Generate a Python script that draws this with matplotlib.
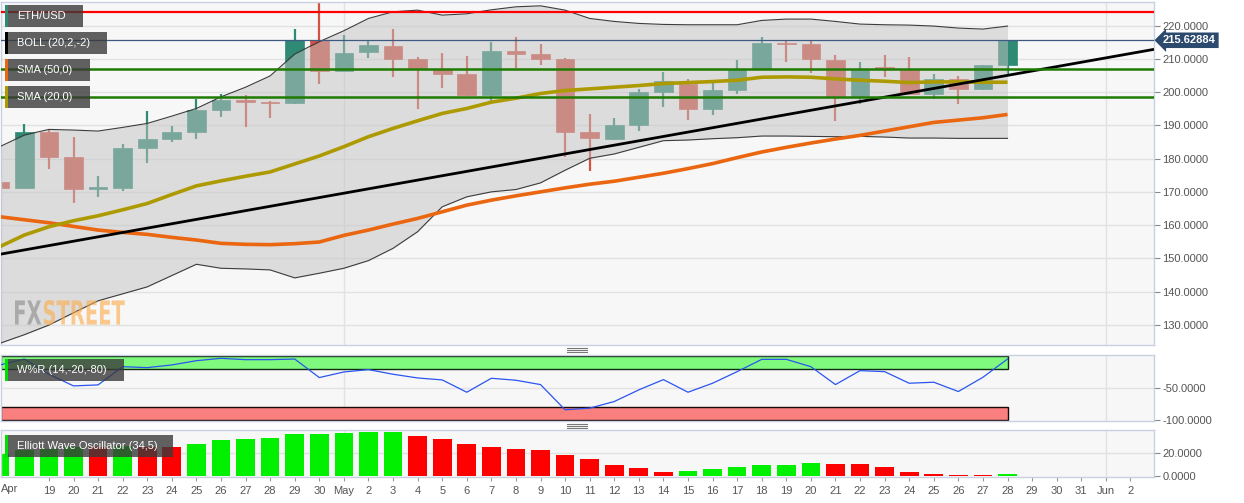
import numpy as np
import matplotlib
matplotlib.use('Agg')
import matplotlib.pyplot as plt
from matplotlib.patches import Rectangle, PathPatch
from matplotlib.textpath import TextPath
from matplotlib.font_manager import FontProperties
from matplotlib.transforms import Affine2D, blended_transform_factory
from matplotlib.lines import Line2D

plt.rcParams['font.family'] = ['Liberation Sans', 'DejaVu Sans']

# ---------------- data (Apr 17 .. May 28) ----------------
dates = ['Apr 17', 'Apr 18', 'Apr 19', 'Apr 20', 'Apr 21', 'Apr 22', 'Apr 23', 'Apr 24',
         'Apr 25', 'Apr 26', 'Apr 27', 'Apr 28', 'Apr 29', 'Apr 30', 'May 1', 'May 2',
         'May 3', 'May 4', 'May 5', 'May 6', 'May 7', 'May 8', 'May 9', 'May 10',
         'May 11', 'May 12', 'May 13', 'May 14', 'May 15', 'May 16', 'May 17', 'May 18',
         'May 19', 'May 20', 'May 21', 'May 22', 'May 23', 'May 24', 'May 25', 'May 26',
         'May 27', 'May 28']
opens = [172.9, 171.2, 187.9, 180.5, 170.9, 171.2, 183.3, 185.8, 187.9, 194.5, 197.6, 196.8,
         196.8, 215.6, 206.4, 212.0, 214.0, 210.0, 207.0, 205.5, 199.2, 212.3, 211.5, 210.0,
         187.9, 186.0, 190.0, 200.0, 202.4, 194.8, 200.6, 207.0, 214.7, 214.6, 209.8, 198.9,
         207.3, 206.8, 199.6, 204.0, 201.0, 208.3]
highs = [175.1, 190.4, 188.6, 186.4, 174.8, 184.4, 194.3, 189.8, 197.9, 199.6, 199.1, 197.4,
         219.0, 226.7, 217.2, 215.5, 219.0, 210.6, 211.8, 210.9, 215.1, 216.6, 214.6, 210.2,
         193.4, 192.2, 201.0, 206.1, 203.9, 202.7, 209.7, 216.6, 215.5, 215.5, 211.2, 209.1,
         211.2, 210.5, 205.5, 204.9, 208.3, 215.63]
lows = [169.0, 170.8, 176.8, 166.7, 168.5, 170.3, 178.8, 185.1, 185.9, 192.6, 189.6, 192.3,
        196.5, 202.4, 206.2, 210.4, 204.6, 195.0, 201.3, 198.9, 197.1, 207.4, 208.2, 180.4,
        176.4, 185.6, 188.4, 195.6, 191.6, 193.2, 199.4, 206.8, 209.2, 205.7, 191.4, 196.3,
        204.6, 199.3, 197.9, 196.4, 200.6, 204.9]
closes = [171.2, 187.9, 180.6, 170.8, 171.1, 183.2, 185.8, 187.9, 194.5, 197.7, 196.9, 196.6,
          215.6, 206.4, 211.8, 214.1, 210.0, 207.3, 205.6, 199.2, 212.4, 211.6, 210.0, 187.9,
          186.1, 190.0, 200.0, 203.3, 194.8, 200.6, 206.8, 214.7, 214.4, 209.9, 198.9, 206.8,
          207.1, 199.6, 204.0, 201.0, 208.3, 215.63]
sma20 = [153.5, 157.0, 159.5, 161.3, 162.8, 164.6, 166.5, 169.2, 171.8, 173.3, 174.7, 176.0,
         178.4, 180.8, 183.6, 186.6, 189.1, 191.4, 193.6, 195.1, 197.0, 198.2, 199.6, 200.5,
         201.0, 201.5, 202.0, 202.6, 202.9, 203.2, 203.6, 204.5, 204.6, 204.5, 204.0, 203.6,
         203.3, 202.9, 203.1, 203.1, 203.0, 203.0]
sma50 = [162.5, 161.6, 160.7, 159.6, 158.5, 157.8, 157.2, 156.3, 155.5, 154.5, 154.2, 154.1,
         154.4, 154.9, 156.9, 158.5, 160.3, 162.0, 164.0, 166.0, 167.5, 168.8, 170.0, 171.2,
         172.3, 173.2, 174.4, 175.6, 177.0, 178.5, 180.3, 182.0, 183.4, 184.7, 185.9, 187.0,
         188.3, 189.6, 190.9, 191.6, 192.3, 193.3]
boll_upper = [183.6, 187.1, 188.8, 188.6, 188.3, 189.4, 190.6, 192.8, 195.1, 198.6, 201.5, 204.9,
              211.5, 215.2, 218.5, 222.2, 224.2, 224.7, 223.2, 223.6, 224.8, 225.7, 226.0, 224.7,
              222.2, 221.3, 220.7, 220.4, 220.3, 220.3, 220.3, 221.6, 222.0, 222.0, 221.3, 220.5,
              220.3, 220.2, 219.9, 219.3, 219.0, 219.9]
boll_lower = [124.4, 127.0, 129.9, 133.6, 137.2, 139.3, 141.4, 144.8, 148.2, 147.0, 146.8, 146.5,
              144.1, 145.5, 147.0, 149.3, 153.0, 158.0, 165.5, 168.5, 170.0, 170.7, 172.7, 176.5,
              180.1, 181.4, 183.4, 185.4, 185.6, 186.0, 186.3, 186.8, 186.8, 186.7, 186.6, 186.7,
              186.5, 186.2, 186.2, 186.1, 186.1, 186.1]
wpr = [-13.5, -4.2, -28.0, -46.4, -44.8, -16.2, -17.7, -13.5, -6.8, -3.1, -5.2, -5.2,
       -4.2, -33.3, -24.5, -20.8, -28.1, -33.9, -37.0, -56.3, -34.4, -37.5, -44.3, -83.9,
       -81.3, -70.9, -52.6, -36.5, -56.3, -42.2, -24.0, -4.7, -4.7, -16.2, -44.3, -22.4,
       -24.0, -42.2, -40.6, -55.2, -32.8, -4.2]
ewo = [19.0, 22.0, 23.5, 25.2, 24.8, 25.8, 25.3, 24.9, 27.4, 31.1, 32.0, 32.6,
       35.7, 35.8, 36.6, 37.4, 37.7, 34.0, 31.7, 27.4, 24.9, 23.1, 22.0, 18.0,
       14.9, 9.7, 6.6, 3.7, 4.0, 5.7, 7.7, 9.1, 9.4, 11.4, 10.3, 10.0,
       7.7, 3.4, 1.4, 1.3, 0.8, 1.7]
last_price = 215.62884
resistance = 224.1
support_levels = [207.0, 198.5]
trend_start = 151.2   # trendline value at Apr 17
trend_end = 212.9     # trendline value at Jun 3 (right edge)
x_labels = ['19', '20', '21', '22', '23', '24', '25', '26', '27', '28', '29', '30', 'May',
            '2', '3', '4', '5', '6', '7', '8', '9', '10', '11', '12', '13', '14', '15', '16',
            '17', '18', '19', '20', '21', '22', '23', '24', '25', '26', '27', '28', '29', '30',
            '31', 'Jun', '2']
main_ticks = [130, 140, 150, 160, 170, 180, 190, 200, 210, 220]
wpr_ticks = [-50, -100]
ewo_ticks = [0, 20]

# ---------------- figure ----------------
W, H = 1244, 503
fig = plt.figure(figsize=(W / 100, H / 100), dpi=100)
fig.patch.set_facecolor('white')

def fx(px):
    return px / W

def fy(py):
    return (H - py) / H

def axes_px(x0, y0, x1, y1):
    return [fx(x0), fy(y1), fx(x1) - fx(x0), fy(y0) - fy(y1)]

ax = fig.add_axes(axes_px(1, 1.5, 1154, 345))
axw = fig.add_axes(axes_px(1, 354.7, 1154, 420.7))
axe = fig.add_axes(axes_px(1, 430.3, 1154, 476.5))

XL = (0.05, 46.96)
grid_c = '#e2e2e2'
spine_c = '#c9d1e0'
tick_label_c = '#555555'
n = len(opens)
x = np.arange(n)
month_starts = [14, 45]

for a in (ax, axw, axe):
    a.set_facecolor('#f7f7f7')
    a.set_xlim(*XL)
    for s in a.spines.values():
        s.set_color(spine_c)
        s.set_linewidth(1)
    a.yaxis.tick_right()
    a.tick_params(axis='y', length=4, color='#888888', labelcolor=tick_label_c,
                  labelsize=8, pad=2, width=0.8)
    for m in month_starts:
        a.axvline(m, color=grid_c, lw=1, zorder=0)

# ---------------- main panel ----------------
ax.set_ylim(123.9, 227.3)
ax.set_yticks(main_ticks)
ax.set_yticklabels([f'{v:.4f}' for v in main_ticks])
for v in main_ticks:
    ax.axhline(v, color=grid_c, lw=1, zorder=0)
ax.tick_params(axis='x', bottom=False, labelbottom=False)

up_c = '#2e8a74'
dn_c = '#d25244'
cols = [up_c if c >= o else dn_c for o, c in zip(opens, closes)]
ax.vlines(x, lows, highs, colors=cols, lw=1.6, zorder=2)
bottoms = [min(o, c) for o, c in zip(opens, closes)]
heights = [max(abs(c - o), 0.55) for o, c in zip(opens, closes)]
ax.bar(x, heights, bottom=bottoms, width=0.76, color=cols, edgecolor=cols, lw=0.5, zorder=2)

# Bollinger band (translucent fill on top of candles)
ax.fill_between(x, boll_lower, boll_upper, color=(0.765, 0.765, 0.765), alpha=0.51,
                lw=0, zorder=3)
ax.plot(x, boll_upper, color='#3c3c3c', lw=0.8, zorder=4)
ax.plot(x, boll_lower, color='#3c3c3c', lw=0.8, zorder=4)

ax.plot(x, sma50, color='#ea6610', lw=2.6, zorder=5, solid_capstyle='butt')
ax.plot(x, sma20, color='#ad9a00', lw=2.6, zorder=5, solid_capstyle='butt')

ax.plot([0, XL[1]], [trend_start, trend_end], color='black', lw=2.0, zorder=6,
        solid_capstyle='butt')
ax.axhline(resistance, color='#ff0000', lw=1.6, zorder=6)
for lv in support_levels:
    ax.axhline(lv, color='#1f7a00', lw=1.8, zorder=6)
ax.axhline(last_price, color='#3e5a82', lw=0.9, zorder=6)

# last price tag
trans = blended_transform_factory(ax.transAxes, ax.transData)
ax.annotate(f'{last_price:.5f}', xy=(1.0, last_price), xycoords=trans,
            xytext=(9, 0), textcoords='offset pixels', ha='left', va='center',
            fontsize=8, fontweight='bold', color='white', annotation_clip=False,
            bbox=dict(boxstyle='larrow,pad=0.25', fc='#2c4a6e', ec='none'), zorder=10)

# ---------------- W%R panel ----------------
axw.set_ylim(-101, 2.6)
axw.set_yticks(wpr_ticks)
axw.set_yticklabels([f'{v:.4f}' for v in wpr_ticks])
axw.axhline(-50, color=grid_c, lw=1, zorder=0)
axw.tick_params(axis='x', bottom=False, labelbottom=False)
axw.add_patch(Rectangle((XL[0], -20), n - 1 - XL[0], 20, fc='#7ffa7f', ec='#0f2a0f',
                        lw=1.0, zorder=1))
axw.add_patch(Rectangle((XL[0], -100.5), n - 1 - XL[0], 20.5, fc='#fa7f7f', ec='#1a0a0a',
                        lw=1.0, zorder=1))
axw.plot(x, wpr, color='#2a55f0', lw=0.9, zorder=3)

# ---------------- EWO panel ----------------
axe.set_ylim(-0.4, 39.2)
axe.set_yticks(ewo_ticks)
axe.set_yticklabels([f'{v:.4f}' for v in ewo_ticks])
axe.axhline(20, color=grid_c, lw=1, zorder=0)
ecols = ['#00f000' if i == 0 or ewo[i] >= ewo[i - 1] else '#ff0000' for i in range(n)]
axe.bar(x, ewo, width=0.76, color=ecols, zorder=2)
axe.set_xticks(range(2, 2 + len(x_labels)))
axe.set_xticklabels(x_labels)
axe.tick_params(axis='x', length=3, color='#999999', labelcolor=tick_label_c,
                labelsize=8, pad=4)
axe.text(0.0, -0.27, 'Apr', transform=axe.transAxes, ha='left', va='center',
         fontsize=8, color=tick_label_c)

# ---------------- legend boxes ----------------
def label_box(x0, y0, x1, y1, strip, text):
    fig.add_artist(Rectangle((fx(x0 + 3), fy(y1)), fx(x1) - fx(x0 + 3), fy(y0) - fy(y1),
                             transform=fig.transFigure, fc='#3a3a3a', alpha=0.8,
                             ec='none', zorder=20))
    fig.add_artist(Rectangle((fx(x0), fy(y1)), fx(3), fy(y0) - fy(y1),
                             transform=fig.transFigure, fc=strip, ec='none', zorder=21))
    fig.text(fx(x0 + 12), fy((y0 + y1) / 2), text, color='white', fontsize=8,
             ha='left', va='center', zorder=22)

label_box(5, 5, 83, 27, up_c, 'ETH/USD')
label_box(5, 32, 107, 54, 'black', 'BOLL (20,2,-2)')
label_box(5, 59, 90, 81, '#ea6610', 'SMA (50,0)')
label_box(5, 86, 90, 108, '#ad9a00', 'SMA (20,0)')
label_box(5, 359, 124, 381, '#00e000', 'W%R (14,-20,-80)')
label_box(5, 435, 173, 457, '#00e000', 'Elliott Wave Oscillator (34,5)')

# panel handles
for hy in (350.3, 426.3):
    for k in (-2, 0, 2):
        fig.add_artist(Line2D([fx(567), fx(587)], [fy(hy + k), fy(hy + k)],
                              transform=fig.transFigure, color='#777777', lw=0.8))

# ---------------- FXSTREET watermark ----------------
fp = FontProperties(family='DejaVu Sans', weight='bold')
p_fx = TextPath((0, 0), 'FX', size=34, prop=fp)
p_all = TextPath((0, 0), 'FXSTREET', size=34, prop=fp)
p_st = TextPath((p_fx.get_extents().x1 + 2, 0), 'STREET', size=34, prop=fp)
ext = p_all.get_extents()
sx = (124 - 15) / (ext.x1 - ext.x0)
sy = (325 - 300) / (ext.y1 - ext.y0)
tr = Affine2D().translate(-ext.x0, -ext.y0).scale(sx, sy).translate(15, H - 325)
fig.add_artist(PathPatch(p_fx, transform=tr, fc='#8a8a8a', ec='none', alpha=0.6, zorder=15))
fig.add_artist(PathPatch(p_st, transform=tr, fc='#fdaa46', ec='none', alpha=0.6, zorder=15))

fig.savefig('out.png', dpi=100, facecolor='white')
